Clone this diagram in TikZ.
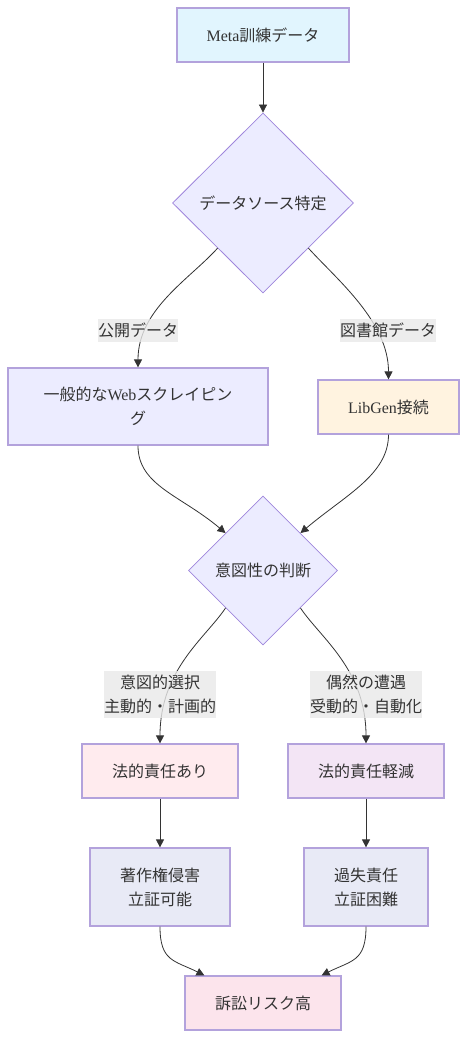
\documentclass[tikz,border=0pt]{standalone}
\usepackage{fontspec}
\setmainfont{Liberation Serif}
\newfontfamily\jpfont{Noto Sans CJK JP}
\usepackage{tikz}
\usetikzlibrary{shapes.geometric}
\usetikzlibrary{arrows.meta}
\definecolor{textcolor}{HTML}{333333}
\definecolor{edgecolor}{HTML}{333333}
\definecolor{bordercolor}{HTML}{B3A2DC}
\definecolor{diamondborder}{HTML}{9F86DC}
\definecolor{defaultfill}{HTML}{ECECFF}
\definecolor{labelfill}{HTML}{E8E8E8}
\definecolor{metafill}{HTML}{E1F5FE}
\definecolor{libgenfill}{HTML}{FFF3E0}
\definecolor{liablefill}{HTML}{FFEBEE}
\definecolor{reducedfill}{HTML}{F3E5F5}
\definecolor{proofill}{HTML}{E8EAF6}
\definecolor{riskfill}{HTML}{FCE4EC}
\newcommand{\lat}[1]{{\rmfamily #1}}
\tikzset{
	boxstyle/.style={rectangle,draw=bordercolor,line width=1.2pt,text=textcolor,align=center,inner sep=0pt,font=\jpfont\fontsize{16}{24}\selectfont},
	diamondstyle/.style={diamond,draw=diamondborder,line width=0.8pt,fill=defaultfill,text=textcolor,inner sep=0pt,font=\jpfont\fontsize{16}{24}\selectfont},
	labelstyle/.style={rectangle,fill=labelfill,fill opacity=0.8,text opacity=1,text=textcolor,inner sep=0pt,align=center,font=\jpfont\fontsize{16}{24}\selectfont},
	edgestyle/.style={draw=edgecolor,line width=0.8pt,-{Triangle[length=8pt,width=8pt]}}
}
\begin{document}
\begin{tikzpicture}[x=1pt,y=-1pt]
	\useasboundingbox (0,0) rectangle (467,1038);
	\node[boxstyle,fill=metafill,minimum width=172pt,minimum height=54pt] (meta) at (263,35) {\lat{Meta}訓練データ};
	\node[diamondstyle,minimum width=181pt,minimum height=180pt] (source) at (263,203) {データソース特定};
	\node[boxstyle,fill=defaultfill,minimum width=260pt,minimum height=77pt] (web) at (138,406.5) {一般的な\lat{Web}スクレイピン\\グ};
	\node[boxstyle,fill=libgenfill,minimum width=141pt,minimum height=54pt] (libgen) at (388.5,407) {\lat{LibGen}接続};
	\node[diamondstyle,minimum width=149pt,minimum height=149pt] (intent) at (263,570.5) {意図性の判断};
	\node[boxstyle,fill=liablefill,minimum width=156pt,minimum height=54pt] (liable) at (160,771) {法的責任あり};
	\node[boxstyle,fill=reducedfill,minimum width=156pt,minimum height=54pt] (reduced) at (366,771) {法的責任軽減};
	\node[boxstyle,fill=proofill,minimum width=140pt,minimum height=78pt] (copyright) at (160,887) {著作権侵害\\立証可能};
	\node[boxstyle,fill=proofill,minimum width=124pt,minimum height=78pt] (negligence) at (366,887) {過失責任\\立証困難};
	\node[boxstyle,fill=riskfill,minimum width=156pt,minimum height=54pt] (risk) at (263,1003) {訴訟リスク高};
	\draw[edgestyle] (meta) -- (source);
	\draw[edgestyle] (source.south west) .. controls +(-28,31) and +(0,-58) .. (web.north);
	\draw[edgestyle] (source.south east) .. controls +(28,31) and +(0,-58) .. (libgen.north);
	\draw[edgestyle] (web.south) .. controls +(0,40) and +(-45,-38) .. (intent.north west);
	\draw[edgestyle] (libgen.south) .. controls +(0,40) and +(45,-38) .. (intent.north east);
	\draw[edgestyle] (intent.south west) .. controls +(-20,30) and +(0,-74) .. (liable.north);
	\draw[edgestyle] (intent.south east) .. controls +(20,30) and +(0,-74) .. (reduced.north);
	\draw[edgestyle] (liable) -- (copyright);
	\draw[edgestyle] (reduced) -- (negligence);
	\draw[edgestyle] (copyright.south) .. controls +(0,35) and +(-30,-15) .. ([xshift=20pt]risk.north west);
	\draw[edgestyle] (negligence.south) .. controls +(0,35) and +(30,-15) .. ([xshift=-20pt]risk.north east);
	\node[labelstyle,minimum width=80pt,minimum height=23pt] (public) at (138,330.5) {公開データ};
	\node[labelstyle,minimum width=96pt,minimum height=23pt] (library) at (388,330.5) {図書館データ};
	\node[labelstyle,minimum width=112pt,minimum height=47pt] (deliberate) at (160,694.5) {意図的選択\\主動的・計画的};
	\node[labelstyle,minimum width=112pt,minimum height=47pt] (accidental) at (366,694.5) {偶然の遭遇\\受動的・自動化};
\end{tikzpicture}
\end{document}
